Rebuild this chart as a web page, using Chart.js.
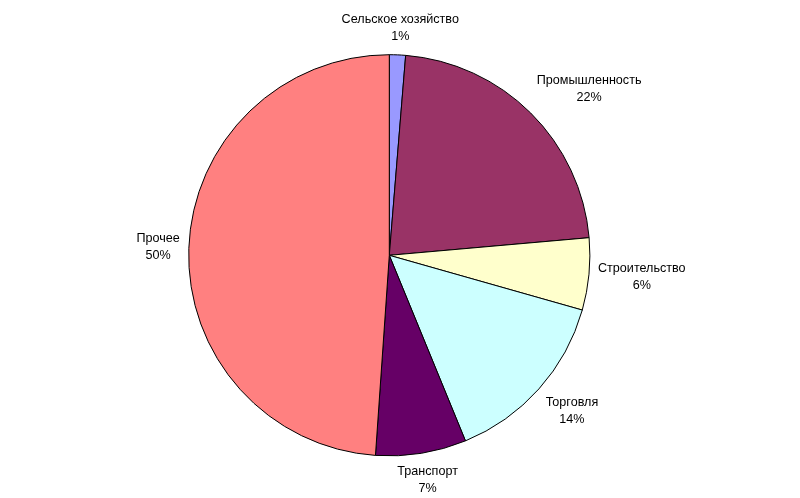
<!DOCTYPE html>
<html>
<head>
<meta charset="utf-8">
<script src="https://cdn.jsdelivr.net/npm/chart.js@4/dist/chart.umd.min.js"></script>
<style>
html,body{margin:0;padding:0;background:#fff;}
#wrap{width:800px;height:498px;}
</style>
</head>
<body>
<div id="wrap"><canvas id="c" width="800" height="498"></canvas></div>
<script>
const categories = ['Сельское хозяйство','Промышленность','Строительство','Торговля','Транспорт','Прочее'];
const values = [1.3, 22.3, 5.8, 14.4, 7.3, 48.9];
const percentLabels = ['1%','22%','6%','14%','7%','50%'];
const colors = ['#9999FF','#993366','#FFFFCC','#CCFFFF','#660066','#FF8080'];

const FONT = '12.6px "Liberation Sans", Arial, sans-serif';
const LINE_H = 17;

const outsideLabels = {
  id: 'outsideLabels',
  afterDatasetsDraw(chart) {
    const ctx = chart.ctx;
    const meta = chart.getDatasetMeta(0);
    ctx.save();
    ctx.font = FONT;
    ctx.fillStyle = '#000';
    ctx.textAlign = 'center';
    ctx.textBaseline = 'middle';
    meta.data.forEach((arc, i) => {
      const p = arc.getProps(['x','y','startAngle','endAngle','outerRadius'], true);
      const a = (p.startAngle + p.endAngle) / 2;
      const c = Math.cos(a), s = Math.sin(a);
      const m = Math.max(Math.abs(c), Math.abs(s));
      const sx = c / m, sy = s / m;
      const R = p.outerRadius + 9;
      const ax = p.x + R * c, ay = p.y + R * s;
      const lines = [categories[i], percentLabels[i]];
      const w = Math.max(...lines.map(t => ctx.measureText(t).width));
      const h = LINE_H * 2 + 2;
      const cx = ax + (w / 2) * sx;
      const cy = ay + (h / 2) * sy;
      ctx.fillText(lines[0], cx, cy - LINE_H / 2);
      ctx.fillText(lines[1], cx, cy + LINE_H / 2);
    });
    ctx.restore();
  }
};

new Chart(document.getElementById('c'), {
  type: 'pie',
  data: {
    labels: categories,
    datasets: [{
      data: values,
      backgroundColor: colors,
      borderColor: '#000000',
      borderWidth: 1
    }]
  },
  options: {
    responsive: false,
    animation: false,
    radius: 200.6,
    layout: { padding: { left: 0, right: 21.4, top: 54.7, bottom: 42.1 } },
    plugins: {
      legend: { display: false },
      tooltip: { enabled: false }
    }
  },
  plugins: [outsideLabels]
});
</script>
</body>
</html>
